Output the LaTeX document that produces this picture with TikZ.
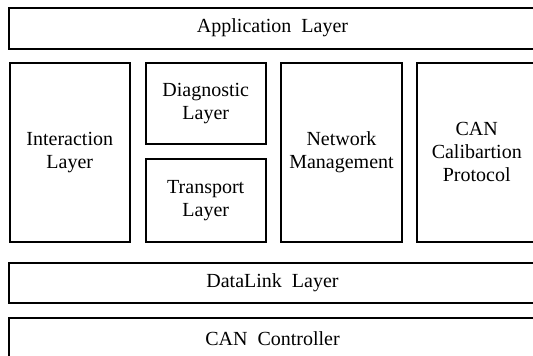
\documentclass[tikz,border=0pt]{standalone}
\usepackage{fontspec}
\setmainfont{Liberation Serif}
\usepackage{tikz}
\usetikzlibrary{positioning}

\tikzset{
  layer/.style={draw, line width=2pt, rectangle, inner sep=0pt, align=center,
    font=\rmfamily\fontsize{20}{23}\selectfont},
}

\begin{document}
\begin{tikzpicture}[x=1pt,y=-1pt]
    \useasboundingbox (0,0) rectangle (533,356);
    \clip (0,0) rectangle (533,356);

    \node[layer, minimum width=527pt, minimum height=41pt] (App) at (272.5,28) {Application\enspace Layer};

    \node[layer, minimum width=120.5pt, minimum height=179.5pt] (Inter) at (69.75,152.25) {Interaction\\Layer};
    \node[layer, minimum width=120.5pt, minimum height=81.5pt] (Diag) at (205.75,103.25) {Diagnostic\\Layer};
    \node[layer, minimum width=120.5pt, minimum height=83pt] (Trans) at (205.75,200.5) {Transport\\Layer};
    \node[layer, minimum width=120.5pt, minimum height=179.5pt] (Net) at (341.5,152.25) {Network\\Management};
    \node[layer, minimum width=120.5pt, minimum height=179.5pt] (Cal) at (476.75,152.25) {CAN\\Calibartion\\Protocol};

    \node[layer, minimum width=527pt, minimum height=40pt] (DL) at (272.5,283) {DataLink\enspace Layer};
    \node[layer, minimum width=527pt, minimum height=42pt] (Ctrl) at (272.5,339) {CAN\enspace Controller};
\end{tikzpicture}
\end{document}
